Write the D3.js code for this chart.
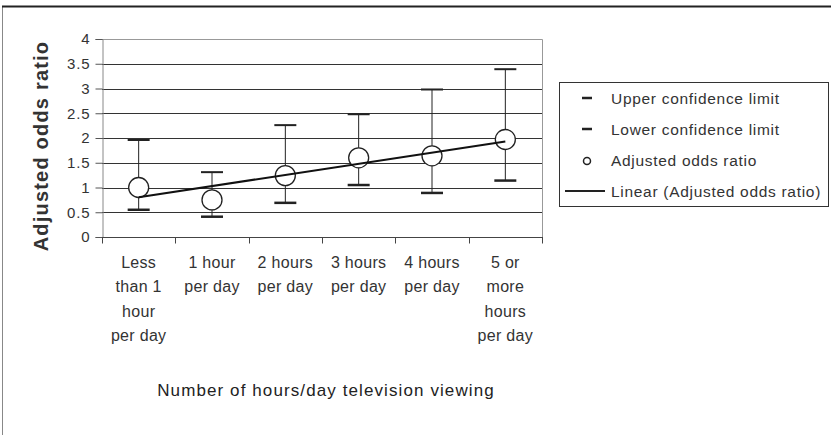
<!DOCTYPE html>
<html>
<head>
<meta charset="utf-8">
<script src="https://cdn.jsdelivr.net/npm/d3@7"></script>
<style>
  body { margin: 0; background: #fff; }
  svg text { font-family: Arial, "Liberation Sans", sans-serif; }
</style>
</head>
<body>
<div id="main"></div>
<script>
const categories = [
    ["Less", "than 1", "hour", "per day"],
    ["1 hour", "per day"],
    ["2 hours", "per day"],
    ["3 hours", "per day"],
    ["4 hours", "per day"],
    ["5 or", "more", "hours", "per day"]
];
const oddsRatio = [1.0, 0.75, 1.24, 1.6, 1.64, 1.97];
const upperLimit = [1.96, 1.31, 2.26, 2.48, 2.98, 3.39];
const lowerLimit = [0.55, 0.41, 0.69, 1.05, 0.89, 1.14];
const yTicks = [0, 0.5, 1, 1.5, 2, 2.5, 3, 3.5, 4];
const legendItems = ["Upper confidence limit", "Lower confidence limit", "Adjusted odds ratio", "Linear (Adjusted odds ratio)"];

const W = 831, H = 436;
const plot = { left: 102, right: 542, top: 39, bottom: 237 };

const svg = d3.select("#main").append("svg")
    .attr("width", W)
    .attr("height", H);

// outer frame
svg.append("line").attr("x1", 2.5).attr("x2", 2.5).attr("y1", 6).attr("y2", 435)
    .attr("stroke", "#888").attr("stroke-width", 1);
svg.append("line").attr("x1", 2).attr("x2", W).attr("y1", 6.5).attr("y2", 6.5)
    .attr("stroke", "#222").attr("stroke-width", 2);

const idx = d3.range(categories.length);
const x = d3.scaleBand().domain(idx).range([plot.left, plot.right]);
const y = d3.scaleLinear().domain([0, 4]).range([plot.bottom, plot.top]);
const cx = i => x(i) + x.bandwidth() / 2;

// gridlines
svg.append("g").selectAll("line")
    .data(yTicks.filter(t => t > 0 && t < 4))
    .join("line")
    .attr("x1", plot.left).attr("x2", plot.right)
    .attr("y1", d => Math.round(y(d)) + 0.5).attr("y2", d => Math.round(y(d)) + 0.5)
    .attr("stroke", "#333");

// plot border (top + right)
svg.append("path")
    .attr("d", `M${plot.left},${plot.top + 0.5}H${plot.right + 0.5}V${plot.bottom}`)
    .attr("fill", "none").attr("stroke", "#999");

// y axis
const yAxis = svg.append("g")
    .attr("transform", `translate(${plot.left + 0.5},0)`)
    .call(d3.axisLeft(y).tickValues(yTicks).tickSize(7).tickPadding(5).tickFormat(d => d));
yAxis.select(".domain").attr("stroke", "#888");
yAxis.selectAll(".tick line").attr("stroke", "#555");
yAxis.selectAll("text").attr("font-size", 15).attr("letter-spacing", 0.9).attr("fill", "#333");

// x axis
const xAxis = svg.append("g")
    .attr("transform", `translate(0,${plot.bottom + 0.5})`);
xAxis.append("line").attr("x1", plot.left).attr("x2", plot.right + 1)
    .attr("stroke", "#444");
xAxis.selectAll(".tk")
    .data(d3.range(categories.length + 1))
    .join("line")
    .attr("x1", d => Math.round(plot.left + d * x.step()) + 0.5)
    .attr("x2", d => Math.round(plot.left + d * x.step()) + 0.5)
    .attr("y1", 0).attr("y2", 6)
    .attr("stroke", "#444");
xAxis.selectAll(".lbl")
    .data(idx)
    .join("text")
    .attr("text-anchor", "middle")
    .attr("font-size", 16)
    .attr("letter-spacing", 0.3)
    .attr("fill", "#333")
    .selectAll("tspan")
    .data(i => categories[i].map(s => ({ s, i })))
    .join("tspan")
    .attr("x", d => cx(d.i))
    .attr("y", (d, j) => 30 + j * 24.6)
    .text(d => d.s);

// error bars
const eb = svg.append("g");
eb.selectAll(".v").data(idx).join("line")
    .attr("x1", i => cx(i)).attr("x2", i => cx(i))
    .attr("y1", i => y(upperLimit[i])).attr("y2", i => y(lowerLimit[i]))
    .attr("stroke", "#222");
eb.selectAll(".u").data(idx).join("line")
    .attr("x1", i => cx(i) - 11).attr("x2", i => cx(i) + 11)
    .attr("y1", i => y(upperLimit[i])).attr("y2", i => y(upperLimit[i]))
    .attr("stroke", "#222").attr("stroke-width", 2);
eb.selectAll(".l").data(idx).join("line")
    .attr("x1", i => cx(i) - 11).attr("x2", i => cx(i) + 11)
    .attr("y1", i => y(lowerLimit[i])).attr("y2", i => y(lowerLimit[i]))
    .attr("stroke", "#222").attr("stroke-width", 2.5);

// circles
svg.append("g").selectAll("circle").data(idx).join("circle")
    .attr("cx", i => cx(i)).attr("cy", i => y(oddsRatio[i]))
    .attr("r", 10)
    .attr("fill", "#fff").attr("stroke", "#222").attr("stroke-width", 1.3);

// linear trend line (least squares)
const mx = d3.mean(idx), my = d3.mean(oddsRatio);
const slope = d3.sum(idx, i => (i - mx) * (oddsRatio[i] - my)) / d3.sum(idx, i => (i - mx) ** 2);
const icpt = my - slope * mx;
const last = categories.length - 1;
svg.append("line")
    .attr("x1", cx(0)).attr("y1", y(icpt))
    .attr("x2", cx(last)).attr("y2", y(icpt + slope * last))
    .attr("stroke", "#111").attr("stroke-width", 2);

// axis titles
svg.append("text")
    .attr("transform", `translate(48,146) rotate(-90)`)
    .attr("text-anchor", "middle")
    .attr("font-size", 20).attr("font-weight", "bold").attr("fill", "#333")
    .attr("letter-spacing", 1.2)
    .text("Adjusted odds ratio");
svg.append("text")
    .attr("x", 326).attr("y", 396)
    .attr("text-anchor", "middle")
    .attr("font-size", 17).attr("fill", "#222")
    .attr("letter-spacing", 1.1)
    .text("Number of hours/day television viewing");

// legend
const lg = svg.append("g");
lg.append("rect").attr("x", 559.5).attr("y", 82.5).attr("width", 269).attr("height", 124)
    .attr("fill", "#fff").attr("stroke", "#333");
const rowY = [98, 129, 160, 191];
lg.selectAll("text").data(legendItems).join("text")
    .attr("x", 611).attr("y", (d, i) => rowY[i] + 5.5)
    .attr("font-size", 15.5).attr("fill", "#333")
    .attr("letter-spacing", 0.7)
    .text(d => d);
[0, 1].forEach(i => lg.append("line")
    .attr("x1", 582).attr("x2", 592).attr("y1", rowY[i]).attr("y2", rowY[i])
    .attr("stroke", "#222").attr("stroke-width", 2.5));
lg.append("circle").attr("cx", 587).attr("cy", rowY[2] + 1).attr("r", 3.5)
    .attr("fill", "#fff").attr("stroke", "#222").attr("stroke-width", 1.5);
lg.append("line").attr("x1", 565).attr("x2", 605).attr("y1", rowY[3]).attr("y2", rowY[3])
    .attr("stroke", "#222").attr("stroke-width", 2);
</script>
</body>
</html>
